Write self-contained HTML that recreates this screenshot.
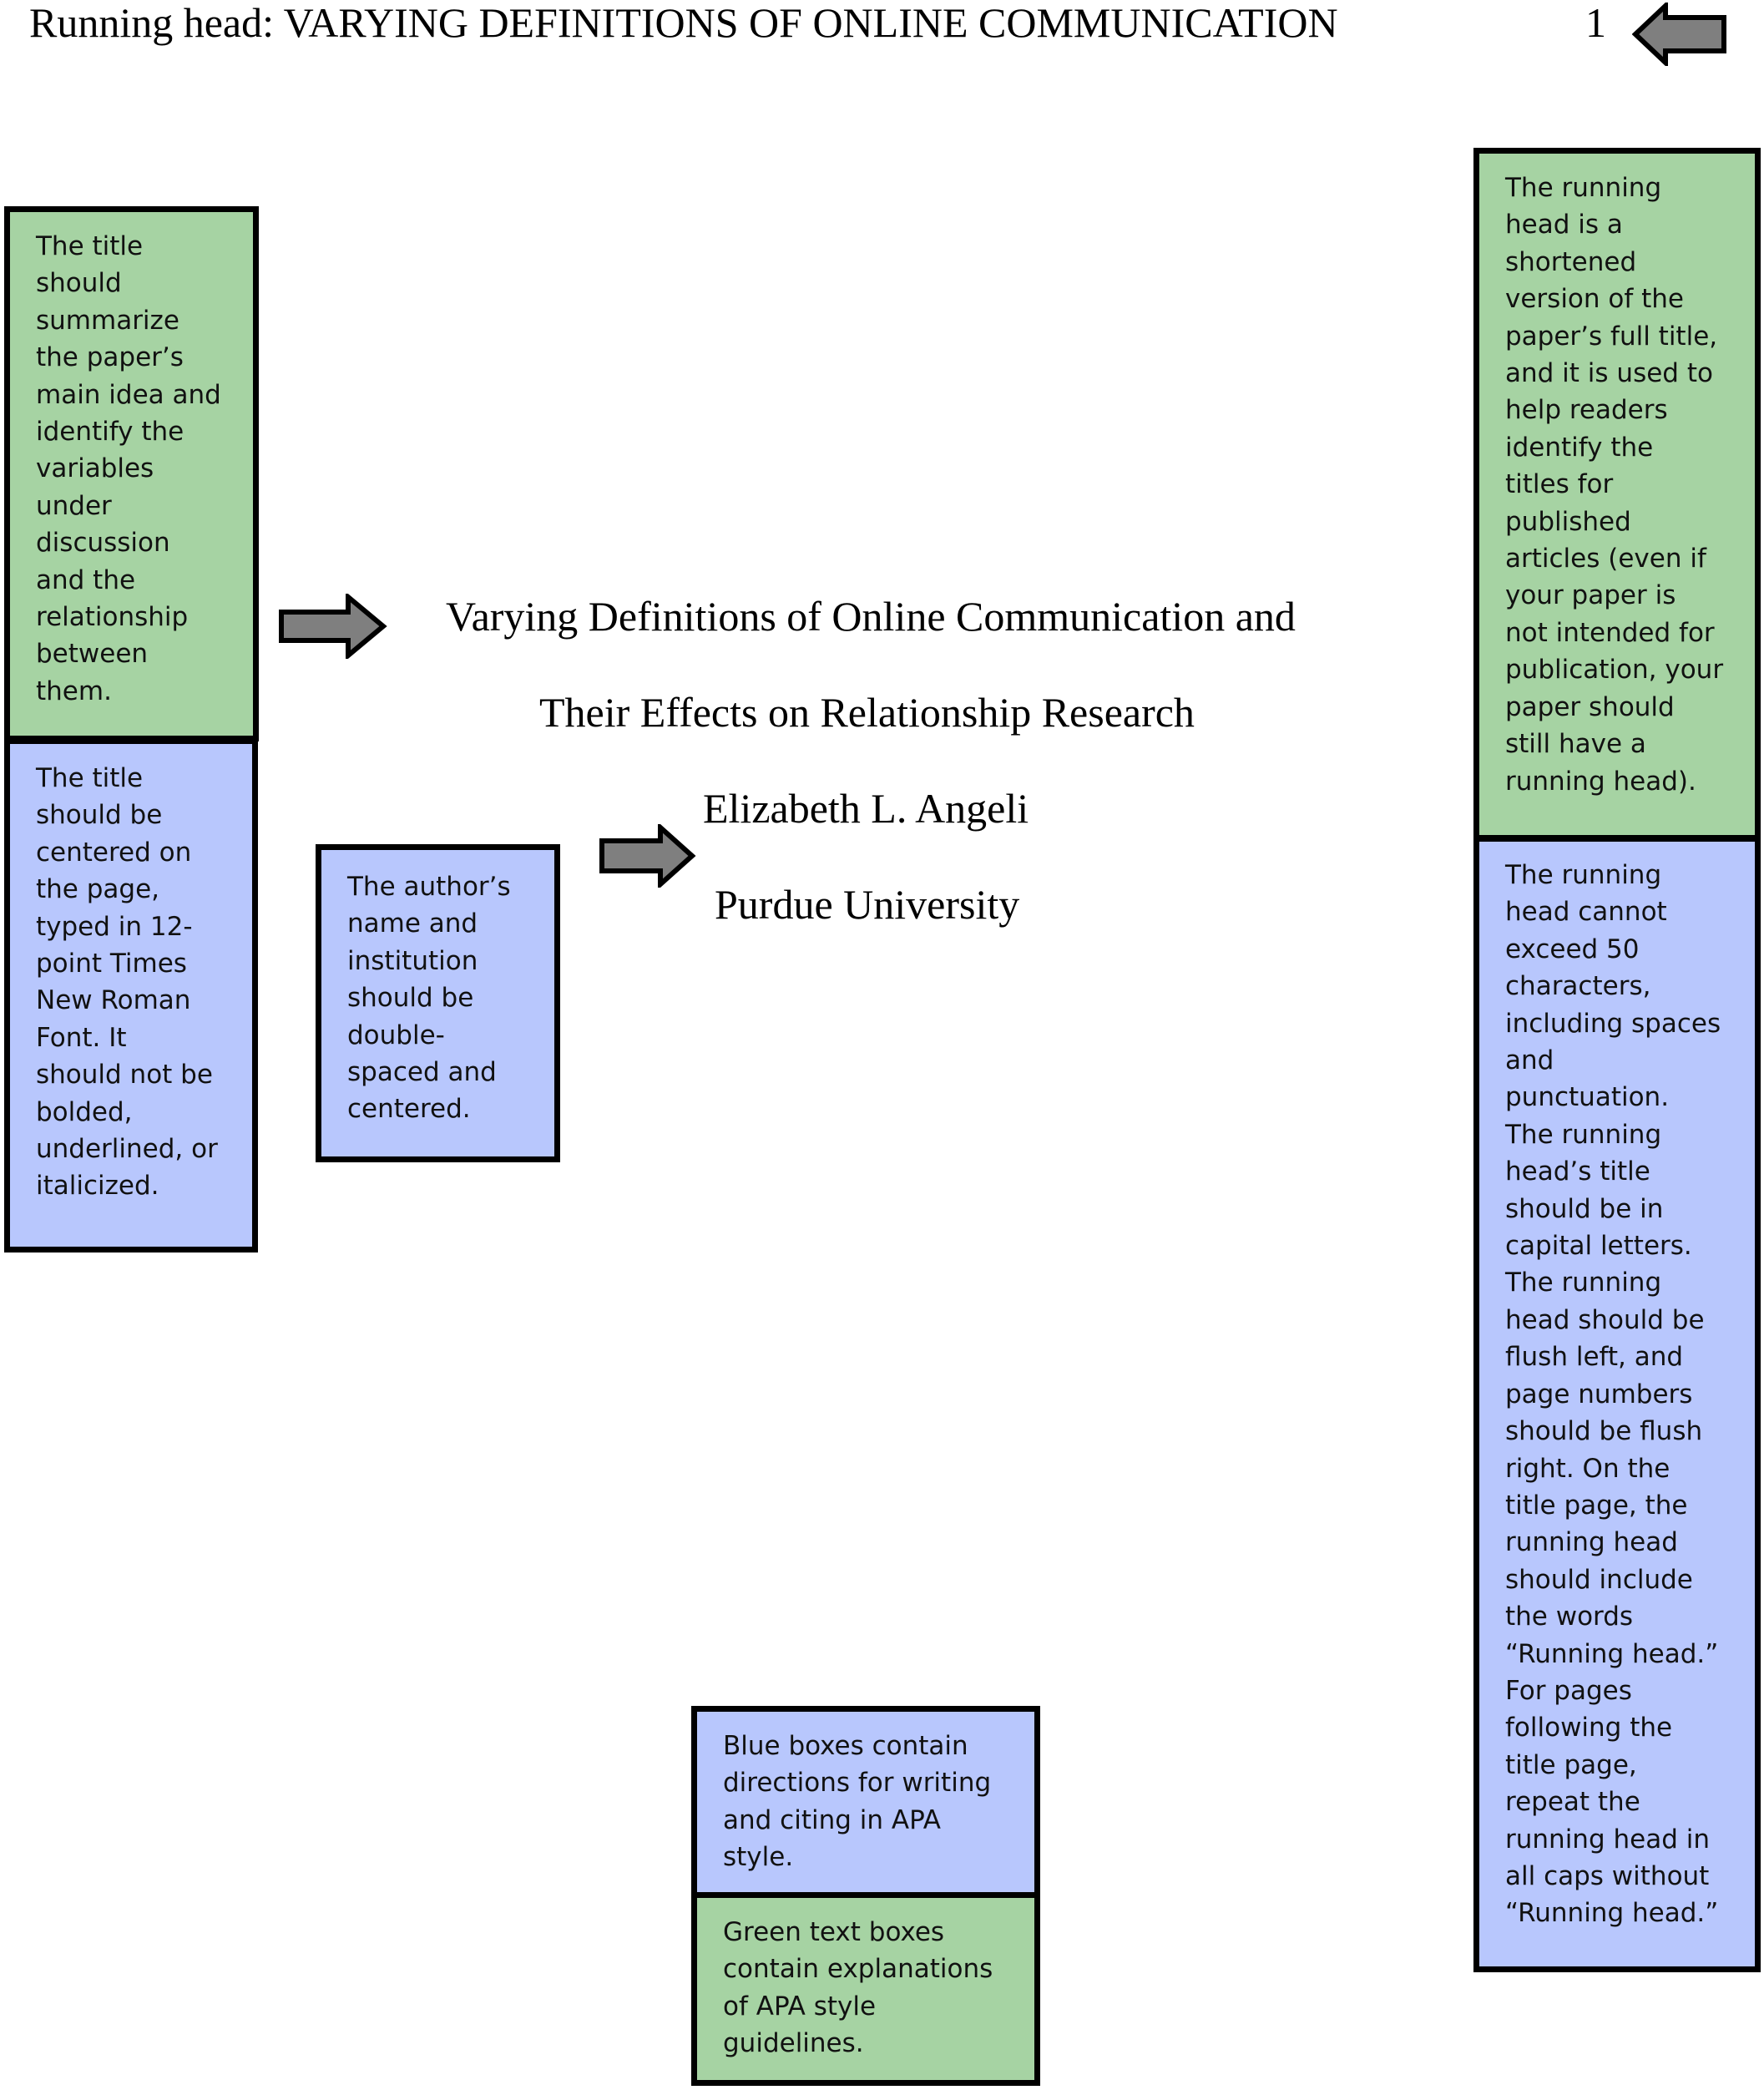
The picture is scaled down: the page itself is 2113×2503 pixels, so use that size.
<!DOCTYPE html>
<html><head><meta charset="utf-8"><style>
html,body{margin:0;padding:0;background:#fff;width:2113px;height:2503px;overflow:hidden;position:relative}
.t{position:absolute;font-family:"Liberation Serif",serif;font-size:50px;color:#000;white-space:nowrap;line-height:1}
.b{position:absolute;box-sizing:border-box;border:7px solid #000;padding:19px 6px 0 31px;font-family:"DejaVu Sans","Liberation Sans",sans-serif;font-size:31px;line-height:44.4px;color:#111;white-space:nowrap}
.g{background:#a6d3a3}.u{background:#b8c7fd}
svg{position:absolute}
</style></head><body>
<div class="t" style="left:35px;top:2px;font-size:50px">Running head: VARYING DEFINITIONS OF ONLINE COMMUNICATION</div>
<div class="t" style="left:1899px;top:2px;font-size:50px">1</div>
<svg style="left:1955px;top:3px" width="116" height="76"><polygon points="110,18 40,18 40,4 4,38 40,72 40,58 110,58" fill="#7f7f7f" stroke="#000" stroke-width="6"/></svg>

<div class="b g" style="left:5px;top:247px;width:305px;height:641px">The title<br>should<br>summarize<br>the paper’s<br>main idea and<br>identify the<br>variables<br>under<br>discussion<br>and the<br>relationship<br>between<br>them.</div>
<div class="b u" style="left:5px;top:884px;width:304px;height:616px">The title<br>should be<br>centered on<br>the page,<br>typed in 12-<br>point Times<br>New Roman<br>Font. It<br>should not be<br>bolded,<br>underlined, or<br>italicized.</div>

<svg style="left:333px;top:711px" width="132" height="78"><polygon points="4,22 84,22 84,4 126,39 84,74 84,56 4,56" fill="#7f7f7f" stroke="#000" stroke-width="6"/></svg>
<div class="t" style="left:534px;top:713px">Varying Definitions of Online Communication and</div>
<div class="t" style="left:646px;top:828px">Their Effects on Relationship Research</div>
<div class="t" style="left:842px;top:943px">Elizabeth L. Angeli</div>
<div class="t" style="left:856px;top:1058px">Purdue University</div>
<svg style="left:717px;top:987px" width="118" height="76"><polygon points="4,20 74,20 74,4 112,38 74,72 74,56 4,56" fill="#7f7f7f" stroke="#000" stroke-width="6"/></svg>

<div class="b u" style="left:378px;top:1011px;width:293px;height:381px;padding-top:22px">The author’s<br>name and<br>institution<br>should be<br>double-<br>spaced and<br>centered.</div>

<div class="b g" style="left:1765px;top:177px;width:344px;height:830px">The running<br>head is a<br>shortened<br>version of the<br>paper’s full title,<br>and it is used to<br>help readers<br>identify the<br>titles for<br>published<br>articles (even if<br>your paper is<br>not intended for<br>publication, your<br>paper should<br>still have a<br>running head).</div>
<div class="b u" style="left:1765px;top:1001px;width:344px;height:1361px;padding-top:18px">The running<br>head cannot<br>exceed 50<br>characters,<br>including spaces<br>and<br>punctuation.<br>The running<br>head’s title<br>should be in<br>capital letters.<br>The running<br>head should be<br>flush left, and<br>page numbers<br>should be flush<br>right. On the<br>title page, the<br>running head<br>should include<br>the words<br>“Running head.”<br>For pages<br>following the<br>title page,<br>repeat the<br>running head in<br>all caps without<br>“Running head.”</div>

<div class="b u" style="left:828px;top:2043px;width:418px;height:230px">Blue boxes contain<br>directions for writing<br>and citing in APA<br>style.</div>
<div class="b g" style="left:828px;top:2266px;width:418px;height:232px">Green text boxes<br>contain explanations<br>of APA style<br>guidelines.</div>
</body></html>
